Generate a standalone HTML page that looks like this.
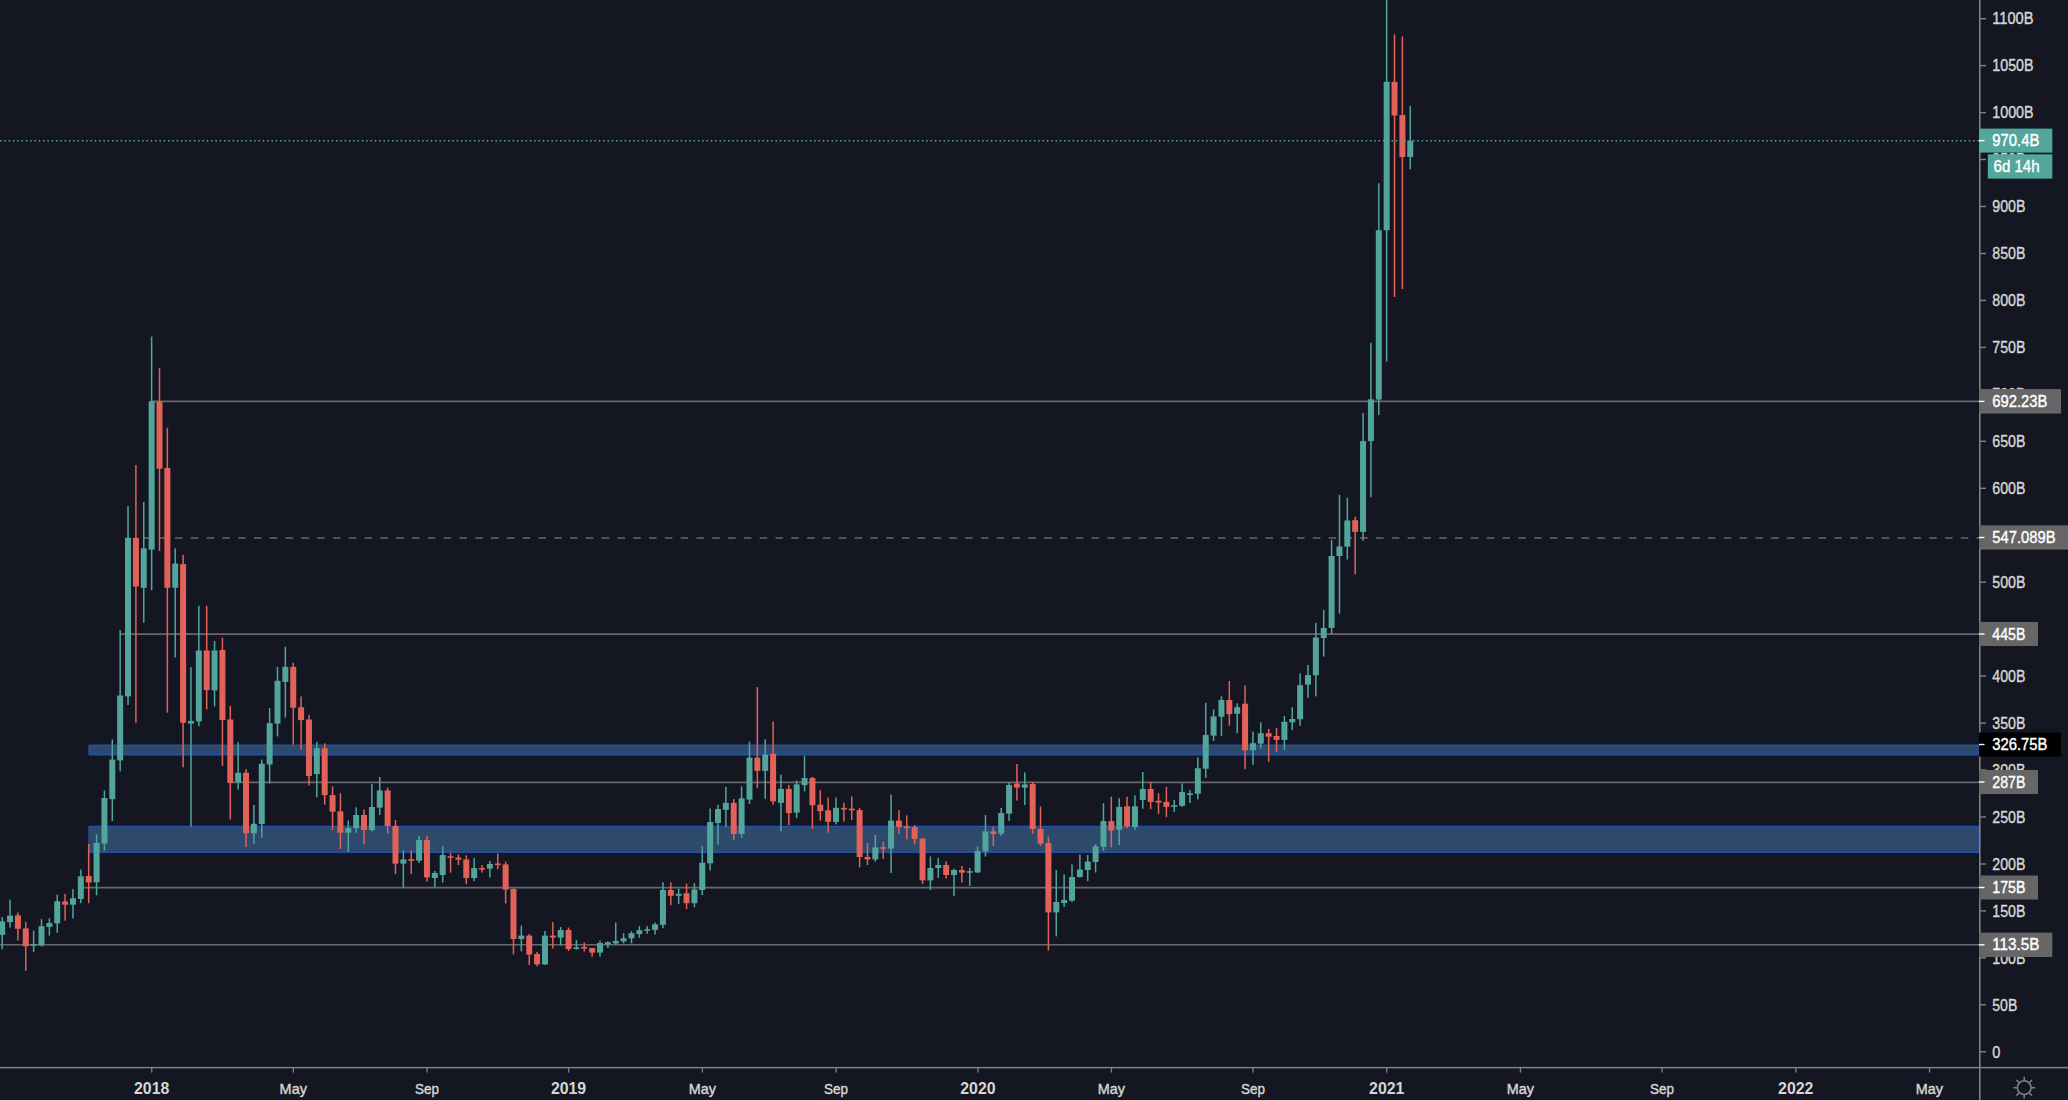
<!DOCTYPE html>
<html><head><meta charset="utf-8"><title>Chart</title>
<style>
html,body{margin:0;padding:0;background:#141622;width:2068px;height:1100px;overflow:hidden}
body{position:relative;font-family:"Liberation Sans",Arial,sans-serif}
</style></head><body>
<svg width="2068" height="1100" viewBox="0 0 2068 1100" style="position:absolute;left:0;top:0;display:block">
<rect width="2068" height="1100" fill="#141622"/>
<rect x="89.0" y="745.2" width="1890.0" height="9.6" rx="0.8" fill="#2d4a6c" stroke="#234fa8" stroke-width="1.4"/>
<rect x="89.0" y="826.5" width="1890.0" height="25.800000000000047" rx="0.8" fill="#2d4a6c" stroke="#234fa8" stroke-width="1.4"/>
<line x1="151.5" y1="401.4" x2="1979.0" y2="401.4" stroke="#686868" stroke-width="1.6"/>
<line x1="143.3" y1="538.0" x2="1979.0" y2="538.0" stroke="#686868" stroke-width="1.6" stroke-dasharray="7.6 8.204"/>
<line x1="120" y1="634.1" x2="1979.0" y2="634.1" stroke="#686868" stroke-width="1.6"/>
<line x1="230.2" y1="782.4" x2="1979.0" y2="782.4" stroke="#686868" stroke-width="1.6"/>
<line x1="80.7" y1="887.6" x2="1979.0" y2="887.6" stroke="#686868" stroke-width="1.6"/>
<line x1="0" y1="944.8" x2="1979.0" y2="944.8" stroke="#686868" stroke-width="1.6"/>
<rect x="1.42" y="917.2" width="1.5" height="32.0" fill="#52a59b"/>
<rect x="-0.83" y="921.4" width="6.0" height="13.5" fill="#52a59b"/>
<rect x="9.28" y="899.7" width="1.5" height="27.9" fill="#52a59b"/>
<rect x="7.03" y="915.6" width="6.0" height="6.5" fill="#52a59b"/>
<rect x="17.15" y="912.5" width="1.5" height="28.2" fill="#e26158"/>
<rect x="14.90" y="915.3" width="6.0" height="13.5" fill="#e26158"/>
<rect x="25.02" y="921.8" width="1.5" height="49.0" fill="#e26158"/>
<rect x="22.77" y="928.4" width="6.0" height="17.9" fill="#e26158"/>
<rect x="32.88" y="930.5" width="1.5" height="21.4" fill="#52a59b"/>
<rect x="30.63" y="944.1" width="6.0" height="1.6" fill="#52a59b"/>
<rect x="40.75" y="919.2" width="1.5" height="27.3" fill="#52a59b"/>
<rect x="38.50" y="926.2" width="6.0" height="19.2" fill="#52a59b"/>
<rect x="48.62" y="918.3" width="1.5" height="17.3" fill="#52a59b"/>
<rect x="46.37" y="923.0" width="6.0" height="3.9" fill="#52a59b"/>
<rect x="56.48" y="894.6" width="1.5" height="38.1" fill="#52a59b"/>
<rect x="54.23" y="901.2" width="6.0" height="22.1" fill="#52a59b"/>
<rect x="64.35" y="894.0" width="1.5" height="26.7" fill="#e26158"/>
<rect x="62.10" y="901.5" width="6.0" height="3.2" fill="#e26158"/>
<rect x="72.22" y="889.1" width="1.5" height="29.4" fill="#52a59b"/>
<rect x="69.97" y="898.3" width="6.0" height="6.4" fill="#52a59b"/>
<rect x="80.08" y="869.6" width="1.5" height="33.6" fill="#52a59b"/>
<rect x="77.83" y="876.3" width="6.0" height="22.7" fill="#52a59b"/>
<rect x="87.95" y="844.0" width="1.5" height="59.2" fill="#e26158"/>
<rect x="85.70" y="876.0" width="6.0" height="6.5" fill="#e26158"/>
<rect x="95.82" y="834.3" width="1.5" height="61.0" fill="#52a59b"/>
<rect x="93.57" y="843.0" width="6.0" height="39.3" fill="#52a59b"/>
<rect x="103.68" y="790.4" width="1.5" height="60.2" fill="#52a59b"/>
<rect x="101.43" y="798.0" width="6.0" height="45.6" fill="#52a59b"/>
<rect x="111.55" y="739.4" width="1.5" height="81.6" fill="#52a59b"/>
<rect x="109.30" y="759.6" width="6.0" height="39.6" fill="#52a59b"/>
<rect x="119.41" y="630.1" width="1.5" height="141.2" fill="#52a59b"/>
<rect x="117.16" y="695.5" width="6.0" height="64.9" fill="#52a59b"/>
<rect x="127.28" y="506.1" width="1.5" height="198.9" fill="#52a59b"/>
<rect x="125.03" y="537.8" width="6.0" height="158.6" fill="#52a59b"/>
<rect x="135.15" y="465.0" width="1.5" height="257.8" fill="#e26158"/>
<rect x="132.90" y="537.8" width="6.0" height="48.7" fill="#e26158"/>
<rect x="143.01" y="501.9" width="1.5" height="120.8" fill="#52a59b"/>
<rect x="140.76" y="548.3" width="6.0" height="39.5" fill="#52a59b"/>
<rect x="150.88" y="336.6" width="1.5" height="253.6" fill="#52a59b"/>
<rect x="148.63" y="401.2" width="6.0" height="148.4" fill="#52a59b"/>
<rect x="158.75" y="368.2" width="1.5" height="182.8" fill="#e26158"/>
<rect x="156.50" y="401.7" width="6.0" height="67.0" fill="#e26158"/>
<rect x="166.61" y="427.8" width="1.5" height="284.9" fill="#e26158"/>
<rect x="164.36" y="467.9" width="6.0" height="119.9" fill="#e26158"/>
<rect x="174.48" y="548.3" width="1.5" height="109.1" fill="#52a59b"/>
<rect x="172.23" y="563.6" width="6.0" height="24.2" fill="#52a59b"/>
<rect x="182.35" y="554.9" width="1.5" height="212.4" fill="#e26158"/>
<rect x="180.10" y="564.1" width="6.0" height="158.7" fill="#e26158"/>
<rect x="190.21" y="667.2" width="1.5" height="159.5" fill="#52a59b"/>
<rect x="187.96" y="720.9" width="6.0" height="2.7" fill="#52a59b"/>
<rect x="198.08" y="605.8" width="1.5" height="120.5" fill="#52a59b"/>
<rect x="195.83" y="650.5" width="6.0" height="70.9" fill="#52a59b"/>
<rect x="205.94" y="605.8" width="1.5" height="103.6" fill="#e26158"/>
<rect x="203.69" y="650.5" width="6.0" height="39.6" fill="#e26158"/>
<rect x="213.81" y="641.0" width="1.5" height="65.4" fill="#52a59b"/>
<rect x="211.56" y="650.5" width="6.0" height="39.9" fill="#52a59b"/>
<rect x="221.68" y="637.7" width="1.5" height="128.2" fill="#e26158"/>
<rect x="219.43" y="650.0" width="6.0" height="70.0" fill="#e26158"/>
<rect x="229.54" y="705.9" width="1.5" height="113.7" fill="#e26158"/>
<rect x="227.29" y="719.5" width="6.0" height="63.5" fill="#e26158"/>
<rect x="237.41" y="742.2" width="1.5" height="47.4" fill="#52a59b"/>
<rect x="235.16" y="772.7" width="6.0" height="9.6" fill="#52a59b"/>
<rect x="245.28" y="769.2" width="1.5" height="77.7" fill="#e26158"/>
<rect x="243.03" y="772.7" width="6.0" height="60.6" fill="#e26158"/>
<rect x="253.14" y="804.9" width="1.5" height="38.7" fill="#52a59b"/>
<rect x="250.89" y="823.7" width="6.0" height="9.6" fill="#52a59b"/>
<rect x="261.01" y="759.6" width="1.5" height="78.0" fill="#52a59b"/>
<rect x="258.76" y="763.7" width="6.0" height="60.3" fill="#52a59b"/>
<rect x="268.88" y="708.1" width="1.5" height="75.5" fill="#52a59b"/>
<rect x="266.63" y="723.1" width="6.0" height="41.4" fill="#52a59b"/>
<rect x="276.74" y="666.9" width="1.5" height="69.5" fill="#52a59b"/>
<rect x="274.49" y="680.8" width="6.0" height="42.8" fill="#52a59b"/>
<rect x="284.61" y="646.7" width="1.5" height="70.9" fill="#52a59b"/>
<rect x="282.36" y="666.9" width="6.0" height="15.0" fill="#52a59b"/>
<rect x="292.48" y="662.8" width="1.5" height="81.8" fill="#e26158"/>
<rect x="290.23" y="666.9" width="6.0" height="40.9" fill="#e26158"/>
<rect x="300.34" y="696.4" width="1.5" height="53.1" fill="#e26158"/>
<rect x="298.09" y="707.3" width="6.0" height="12.8" fill="#e26158"/>
<rect x="308.21" y="714.9" width="1.5" height="70.6" fill="#e26158"/>
<rect x="305.96" y="719.5" width="6.0" height="56.5" fill="#e26158"/>
<rect x="316.07" y="741.9" width="1.5" height="55.4" fill="#52a59b"/>
<rect x="313.82" y="748.2" width="6.0" height="25.9" fill="#52a59b"/>
<rect x="323.94" y="743.3" width="1.5" height="61.3" fill="#e26158"/>
<rect x="321.69" y="748.2" width="6.0" height="46.9" fill="#e26158"/>
<rect x="331.81" y="786.3" width="1.5" height="43.7" fill="#e26158"/>
<rect x="329.56" y="795.1" width="6.0" height="16.6" fill="#e26158"/>
<rect x="339.67" y="793.2" width="1.5" height="55.9" fill="#e26158"/>
<rect x="337.42" y="811.4" width="6.0" height="21.3" fill="#e26158"/>
<rect x="347.54" y="820.4" width="1.5" height="31.4" fill="#52a59b"/>
<rect x="345.29" y="828.1" width="6.0" height="4.6" fill="#52a59b"/>
<rect x="355.41" y="807.3" width="1.5" height="25.4" fill="#52a59b"/>
<rect x="353.16" y="815.0" width="6.0" height="13.1" fill="#52a59b"/>
<rect x="363.27" y="809.5" width="1.5" height="34.9" fill="#e26158"/>
<rect x="361.02" y="815.0" width="6.0" height="15.0" fill="#e26158"/>
<rect x="371.14" y="784.0" width="1.5" height="47.4" fill="#52a59b"/>
<rect x="368.89" y="807.0" width="6.0" height="23.0" fill="#52a59b"/>
<rect x="379.01" y="777.0" width="1.5" height="38.0" fill="#52a59b"/>
<rect x="376.76" y="790.4" width="6.0" height="17.2" fill="#52a59b"/>
<rect x="386.87" y="787.6" width="1.5" height="46.0" fill="#e26158"/>
<rect x="384.62" y="790.4" width="6.0" height="35.6" fill="#e26158"/>
<rect x="394.74" y="820.0" width="1.5" height="54.0" fill="#e26158"/>
<rect x="392.49" y="826.0" width="6.0" height="37.6" fill="#e26158"/>
<rect x="402.60" y="850.4" width="1.5" height="37.2" fill="#52a59b"/>
<rect x="400.35" y="859.4" width="6.0" height="4.2" fill="#52a59b"/>
<rect x="410.47" y="850.4" width="1.5" height="23.6" fill="#e26158"/>
<rect x="408.22" y="859.2" width="6.0" height="1.6" fill="#e26158"/>
<rect x="418.34" y="836.0" width="1.5" height="27.0" fill="#52a59b"/>
<rect x="416.09" y="840.0" width="6.0" height="20.6" fill="#52a59b"/>
<rect x="426.20" y="836.0" width="1.5" height="45.6" fill="#e26158"/>
<rect x="423.95" y="840.0" width="6.0" height="37.4" fill="#e26158"/>
<rect x="434.07" y="871.0" width="1.5" height="16.0" fill="#52a59b"/>
<rect x="431.82" y="873.0" width="6.0" height="5.0" fill="#52a59b"/>
<rect x="441.94" y="846.0" width="1.5" height="36.4" fill="#52a59b"/>
<rect x="439.69" y="855.0" width="6.0" height="20.0" fill="#52a59b"/>
<rect x="449.80" y="853.0" width="1.5" height="19.6" fill="#e26158"/>
<rect x="447.55" y="856.2" width="6.0" height="1.6" fill="#e26158"/>
<rect x="457.67" y="854.4" width="1.5" height="10.6" fill="#e26158"/>
<rect x="455.42" y="857.6" width="6.0" height="2.0" fill="#e26158"/>
<rect x="465.54" y="855.4" width="1.5" height="28.6" fill="#e26158"/>
<rect x="463.29" y="859.4" width="6.0" height="18.6" fill="#e26158"/>
<rect x="473.40" y="858.0" width="1.5" height="23.0" fill="#52a59b"/>
<rect x="471.15" y="868.0" width="6.0" height="10.0" fill="#52a59b"/>
<rect x="481.27" y="865.0" width="1.5" height="7.6" fill="#e26158"/>
<rect x="479.02" y="868.0" width="6.0" height="1.6" fill="#e26158"/>
<rect x="489.14" y="861.0" width="1.5" height="16.4" fill="#52a59b"/>
<rect x="486.89" y="864.0" width="6.0" height="4.6" fill="#52a59b"/>
<rect x="497.00" y="853.6" width="1.5" height="15.4" fill="#e26158"/>
<rect x="494.75" y="863.5" width="6.0" height="1.6" fill="#e26158"/>
<rect x="504.87" y="861.6" width="1.5" height="41.8" fill="#e26158"/>
<rect x="502.62" y="864.4" width="6.0" height="25.2" fill="#e26158"/>
<rect x="512.73" y="888.4" width="1.5" height="66.0" fill="#e26158"/>
<rect x="510.48" y="889.0" width="6.0" height="50.0" fill="#e26158"/>
<rect x="520.60" y="925.6" width="1.5" height="25.8" fill="#52a59b"/>
<rect x="518.35" y="935.6" width="6.0" height="3.4" fill="#52a59b"/>
<rect x="528.47" y="934.0" width="1.5" height="31.0" fill="#e26158"/>
<rect x="526.22" y="935.6" width="6.0" height="19.0" fill="#e26158"/>
<rect x="536.33" y="952.0" width="1.5" height="14.4" fill="#e26158"/>
<rect x="534.08" y="954.0" width="6.0" height="10.4" fill="#e26158"/>
<rect x="544.20" y="931.0" width="1.5" height="34.0" fill="#52a59b"/>
<rect x="541.95" y="935.6" width="6.0" height="28.8" fill="#52a59b"/>
<rect x="552.07" y="922.0" width="1.5" height="26.6" fill="#e26158"/>
<rect x="549.82" y="935.6" width="6.0" height="2.0" fill="#e26158"/>
<rect x="559.93" y="927.0" width="1.5" height="18.4" fill="#52a59b"/>
<rect x="557.68" y="930.0" width="6.0" height="7.6" fill="#52a59b"/>
<rect x="567.80" y="927.6" width="1.5" height="23.4" fill="#e26158"/>
<rect x="565.55" y="930.0" width="6.0" height="19.0" fill="#e26158"/>
<rect x="575.67" y="940.0" width="1.5" height="9.6" fill="#52a59b"/>
<rect x="573.42" y="947.4" width="6.0" height="1.6" fill="#52a59b"/>
<rect x="583.53" y="942.4" width="1.5" height="9.2" fill="#e26158"/>
<rect x="581.28" y="946.9" width="6.0" height="1.6" fill="#e26158"/>
<rect x="591.40" y="948.0" width="1.5" height="8.6" fill="#e26158"/>
<rect x="589.15" y="948.0" width="6.0" height="4.6" fill="#e26158"/>
<rect x="599.26" y="940.6" width="1.5" height="16.0" fill="#52a59b"/>
<rect x="597.01" y="943.0" width="6.0" height="9.6" fill="#52a59b"/>
<rect x="607.13" y="941.4" width="1.5" height="6.6" fill="#52a59b"/>
<rect x="604.88" y="942.2" width="6.0" height="2.3" fill="#52a59b"/>
<rect x="615.00" y="922.6" width="1.5" height="21.8" fill="#52a59b"/>
<rect x="612.75" y="940.9" width="6.0" height="2.5" fill="#52a59b"/>
<rect x="622.86" y="933.2" width="1.5" height="10.2" fill="#52a59b"/>
<rect x="620.61" y="938.3" width="6.0" height="3.1" fill="#52a59b"/>
<rect x="630.73" y="931.2" width="1.5" height="12.2" fill="#52a59b"/>
<rect x="628.48" y="933.2" width="6.0" height="5.1" fill="#52a59b"/>
<rect x="638.60" y="926.1" width="1.5" height="11.7" fill="#52a59b"/>
<rect x="636.35" y="930.2" width="6.0" height="3.8" fill="#52a59b"/>
<rect x="646.46" y="926.1" width="1.5" height="7.7" fill="#52a59b"/>
<rect x="644.21" y="929.2" width="6.0" height="1.6" fill="#52a59b"/>
<rect x="654.33" y="922.6" width="1.5" height="11.9" fill="#52a59b"/>
<rect x="652.08" y="924.3" width="6.0" height="5.6" fill="#52a59b"/>
<rect x="662.20" y="882.3" width="1.5" height="45.9" fill="#52a59b"/>
<rect x="659.95" y="890.0" width="6.0" height="34.8" fill="#52a59b"/>
<rect x="670.06" y="882.3" width="1.5" height="22.9" fill="#e26158"/>
<rect x="667.81" y="890.0" width="6.0" height="5.8" fill="#e26158"/>
<rect x="677.93" y="888.7" width="1.5" height="15.3" fill="#52a59b"/>
<rect x="675.68" y="893.8" width="6.0" height="2.0" fill="#52a59b"/>
<rect x="685.80" y="883.6" width="1.5" height="25.5" fill="#e26158"/>
<rect x="683.55" y="893.3" width="6.0" height="9.9" fill="#e26158"/>
<rect x="693.66" y="883.1" width="1.5" height="24.2" fill="#52a59b"/>
<rect x="691.41" y="889.5" width="6.0" height="13.7" fill="#52a59b"/>
<rect x="701.53" y="845.9" width="1.5" height="49.2" fill="#52a59b"/>
<rect x="699.28" y="862.7" width="6.0" height="27.3" fill="#52a59b"/>
<rect x="709.39" y="808.5" width="1.5" height="61.9" fill="#52a59b"/>
<rect x="707.14" y="822.0" width="6.0" height="41.3" fill="#52a59b"/>
<rect x="717.26" y="804.7" width="1.5" height="40.0" fill="#52a59b"/>
<rect x="715.01" y="809.0" width="6.0" height="14.0" fill="#52a59b"/>
<rect x="725.13" y="786.9" width="1.5" height="40.2" fill="#52a59b"/>
<rect x="722.88" y="802.9" width="6.0" height="6.9" fill="#52a59b"/>
<rect x="732.99" y="799.1" width="1.5" height="41.2" fill="#e26158"/>
<rect x="730.74" y="802.9" width="6.0" height="31.1" fill="#e26158"/>
<rect x="740.86" y="786.4" width="1.5" height="51.4" fill="#52a59b"/>
<rect x="738.61" y="798.4" width="6.0" height="35.6" fill="#52a59b"/>
<rect x="748.73" y="741.6" width="1.5" height="62.4" fill="#52a59b"/>
<rect x="746.48" y="757.6" width="6.0" height="42.0" fill="#52a59b"/>
<rect x="756.59" y="687.1" width="1.5" height="101.1" fill="#e26158"/>
<rect x="754.34" y="757.6" width="6.0" height="13.3" fill="#e26158"/>
<rect x="764.46" y="739.3" width="1.5" height="59.6" fill="#52a59b"/>
<rect x="762.21" y="754.6" width="6.0" height="16.3" fill="#52a59b"/>
<rect x="772.33" y="721.5" width="1.5" height="83.2" fill="#e26158"/>
<rect x="770.08" y="753.8" width="6.0" height="47.6" fill="#e26158"/>
<rect x="780.19" y="774.7" width="1.5" height="56.7" fill="#52a59b"/>
<rect x="777.94" y="788.9" width="6.0" height="14.0" fill="#52a59b"/>
<rect x="788.06" y="785.1" width="1.5" height="40.0" fill="#e26158"/>
<rect x="785.81" y="788.9" width="6.0" height="24.2" fill="#e26158"/>
<rect x="795.92" y="780.5" width="1.5" height="37.5" fill="#52a59b"/>
<rect x="793.67" y="784.4" width="6.0" height="28.2" fill="#52a59b"/>
<rect x="803.79" y="755.8" width="1.5" height="35.7" fill="#52a59b"/>
<rect x="801.54" y="778.0" width="6.0" height="7.1" fill="#52a59b"/>
<rect x="811.66" y="776.7" width="1.5" height="52.2" fill="#e26158"/>
<rect x="809.41" y="778.0" width="6.0" height="27.2" fill="#e26158"/>
<rect x="819.52" y="790.2" width="1.5" height="30.6" fill="#e26158"/>
<rect x="817.27" y="804.7" width="6.0" height="6.4" fill="#e26158"/>
<rect x="827.39" y="797.6" width="1.5" height="35.1" fill="#e26158"/>
<rect x="825.14" y="810.3" width="6.0" height="11.5" fill="#e26158"/>
<rect x="835.26" y="797.6" width="1.5" height="26.7" fill="#52a59b"/>
<rect x="833.01" y="807.8" width="6.0" height="14.2" fill="#52a59b"/>
<rect x="843.12" y="802.6" width="1.5" height="19.0" fill="#e26158"/>
<rect x="840.87" y="807.9" width="6.0" height="1.6" fill="#e26158"/>
<rect x="850.99" y="796.4" width="1.5" height="23.6" fill="#e26158"/>
<rect x="848.74" y="808.6" width="6.0" height="1.8" fill="#e26158"/>
<rect x="858.86" y="808.0" width="1.5" height="59.4" fill="#e26158"/>
<rect x="856.61" y="810.0" width="6.0" height="47.0" fill="#e26158"/>
<rect x="866.72" y="843.0" width="1.5" height="22.0" fill="#e26158"/>
<rect x="864.47" y="857.0" width="6.0" height="2.4" fill="#e26158"/>
<rect x="874.59" y="835.0" width="1.5" height="26.6" fill="#52a59b"/>
<rect x="872.34" y="847.4" width="6.0" height="12.0" fill="#52a59b"/>
<rect x="882.46" y="842.0" width="1.5" height="17.0" fill="#e26158"/>
<rect x="880.21" y="847.2" width="6.0" height="1.6" fill="#e26158"/>
<rect x="890.32" y="794.6" width="1.5" height="78.4" fill="#52a59b"/>
<rect x="888.07" y="820.6" width="6.0" height="28.0" fill="#52a59b"/>
<rect x="898.19" y="810.0" width="1.5" height="24.0" fill="#e26158"/>
<rect x="895.94" y="820.6" width="6.0" height="6.4" fill="#e26158"/>
<rect x="906.05" y="815.4" width="1.5" height="24.0" fill="#e26158"/>
<rect x="903.80" y="826.5" width="6.0" height="1.6" fill="#e26158"/>
<rect x="913.92" y="825.0" width="1.5" height="19.4" fill="#e26158"/>
<rect x="911.67" y="827.0" width="6.0" height="12.0" fill="#e26158"/>
<rect x="921.79" y="838.0" width="1.5" height="46.0" fill="#e26158"/>
<rect x="919.54" y="838.6" width="6.0" height="41.8" fill="#e26158"/>
<rect x="929.65" y="856.4" width="1.5" height="33.6" fill="#52a59b"/>
<rect x="927.40" y="868.0" width="6.0" height="12.4" fill="#52a59b"/>
<rect x="937.52" y="858.0" width="1.5" height="20.0" fill="#52a59b"/>
<rect x="935.27" y="865.0" width="6.0" height="3.0" fill="#52a59b"/>
<rect x="945.39" y="861.4" width="1.5" height="17.2" fill="#e26158"/>
<rect x="943.14" y="865.0" width="6.0" height="10.0" fill="#e26158"/>
<rect x="953.25" y="868.6" width="1.5" height="27.4" fill="#52a59b"/>
<rect x="951.00" y="870.0" width="6.0" height="5.0" fill="#52a59b"/>
<rect x="961.12" y="866.0" width="1.5" height="16.4" fill="#e26158"/>
<rect x="958.87" y="870.0" width="6.0" height="2.6" fill="#e26158"/>
<rect x="968.99" y="868.0" width="1.5" height="18.0" fill="#52a59b"/>
<rect x="966.74" y="871.2" width="6.0" height="1.6" fill="#52a59b"/>
<rect x="976.85" y="846.4" width="1.5" height="26.6" fill="#52a59b"/>
<rect x="974.60" y="851.0" width="6.0" height="21.4" fill="#52a59b"/>
<rect x="984.72" y="815.0" width="1.5" height="41.6" fill="#52a59b"/>
<rect x="982.47" y="831.4" width="6.0" height="20.0" fill="#52a59b"/>
<rect x="992.58" y="826.4" width="1.5" height="19.6" fill="#e26158"/>
<rect x="990.33" y="831.4" width="6.0" height="2.6" fill="#e26158"/>
<rect x="1000.45" y="808.0" width="1.5" height="28.0" fill="#52a59b"/>
<rect x="998.20" y="813.0" width="6.0" height="20.6" fill="#52a59b"/>
<rect x="1008.32" y="782.4" width="1.5" height="38.6" fill="#52a59b"/>
<rect x="1006.07" y="785.0" width="6.0" height="28.6" fill="#52a59b"/>
<rect x="1016.18" y="764.0" width="1.5" height="36.6" fill="#e26158"/>
<rect x="1013.93" y="783.6" width="6.0" height="4.0" fill="#e26158"/>
<rect x="1024.05" y="772.4" width="1.5" height="32.6" fill="#52a59b"/>
<rect x="1021.80" y="784.4" width="6.0" height="3.2" fill="#52a59b"/>
<rect x="1031.92" y="782.0" width="1.5" height="51.6" fill="#e26158"/>
<rect x="1029.67" y="784.0" width="6.0" height="45.0" fill="#e26158"/>
<rect x="1039.78" y="806.4" width="1.5" height="39.6" fill="#e26158"/>
<rect x="1037.53" y="829.0" width="6.0" height="14.6" fill="#e26158"/>
<rect x="1047.65" y="836.6" width="1.5" height="114.0" fill="#e26158"/>
<rect x="1045.40" y="843.0" width="6.0" height="69.4" fill="#e26158"/>
<rect x="1055.52" y="870.0" width="1.5" height="66.4" fill="#52a59b"/>
<rect x="1053.27" y="902.0" width="6.0" height="10.4" fill="#52a59b"/>
<rect x="1063.38" y="874.4" width="1.5" height="32.6" fill="#52a59b"/>
<rect x="1061.13" y="900.0" width="6.0" height="3.0" fill="#52a59b"/>
<rect x="1071.25" y="864.4" width="1.5" height="37.6" fill="#52a59b"/>
<rect x="1069.00" y="877.0" width="6.0" height="23.6" fill="#52a59b"/>
<rect x="1079.12" y="854.4" width="1.5" height="23.2" fill="#52a59b"/>
<rect x="1076.87" y="869.6" width="6.0" height="7.4" fill="#52a59b"/>
<rect x="1086.98" y="855.0" width="1.5" height="26.0" fill="#52a59b"/>
<rect x="1084.73" y="861.6" width="6.0" height="8.4" fill="#52a59b"/>
<rect x="1094.85" y="844.0" width="1.5" height="28.5" fill="#52a59b"/>
<rect x="1092.60" y="846.4" width="6.0" height="15.6" fill="#52a59b"/>
<rect x="1102.71" y="803.2" width="1.5" height="47.4" fill="#52a59b"/>
<rect x="1100.46" y="821.1" width="6.0" height="25.8" fill="#52a59b"/>
<rect x="1110.58" y="796.7" width="1.5" height="50.6" fill="#e26158"/>
<rect x="1108.33" y="821.1" width="6.0" height="9.4" fill="#e26158"/>
<rect x="1118.45" y="798.2" width="1.5" height="46.9" fill="#52a59b"/>
<rect x="1116.20" y="806.9" width="6.0" height="22.9" fill="#52a59b"/>
<rect x="1126.31" y="796.7" width="1.5" height="31.6" fill="#e26158"/>
<rect x="1124.06" y="806.3" width="6.0" height="20.3" fill="#e26158"/>
<rect x="1134.18" y="795.4" width="1.5" height="34.4" fill="#52a59b"/>
<rect x="1131.93" y="806.3" width="6.0" height="20.7" fill="#52a59b"/>
<rect x="1142.05" y="772.0" width="1.5" height="36.7" fill="#52a59b"/>
<rect x="1139.80" y="789.0" width="6.0" height="10.9" fill="#52a59b"/>
<rect x="1149.91" y="781.8" width="1.5" height="27.3" fill="#e26158"/>
<rect x="1147.66" y="789.0" width="6.0" height="12.9" fill="#e26158"/>
<rect x="1157.78" y="793.2" width="1.5" height="20.7" fill="#e26158"/>
<rect x="1155.53" y="800.8" width="6.0" height="1.8" fill="#e26158"/>
<rect x="1165.65" y="786.8" width="1.5" height="30.4" fill="#e26158"/>
<rect x="1163.40" y="801.9" width="6.0" height="5.0" fill="#e26158"/>
<rect x="1173.51" y="799.9" width="1.5" height="12.0" fill="#52a59b"/>
<rect x="1171.26" y="805.2" width="6.0" height="1.7" fill="#52a59b"/>
<rect x="1181.38" y="783.4" width="1.5" height="23.5" fill="#52a59b"/>
<rect x="1179.13" y="792.1" width="6.0" height="13.7" fill="#52a59b"/>
<rect x="1189.24" y="790.1" width="1.5" height="12.9" fill="#52a59b"/>
<rect x="1186.99" y="793.4" width="6.0" height="1.6" fill="#52a59b"/>
<rect x="1197.11" y="757.4" width="1.5" height="41.9" fill="#52a59b"/>
<rect x="1194.86" y="768.3" width="6.0" height="25.5" fill="#52a59b"/>
<rect x="1204.98" y="702.8" width="1.5" height="75.1" fill="#52a59b"/>
<rect x="1202.73" y="734.9" width="6.0" height="33.8" fill="#52a59b"/>
<rect x="1212.84" y="709.4" width="1.5" height="31.6" fill="#52a59b"/>
<rect x="1210.59" y="716.4" width="6.0" height="19.2" fill="#52a59b"/>
<rect x="1220.71" y="696.3" width="1.5" height="39.7" fill="#52a59b"/>
<rect x="1218.46" y="700.0" width="6.0" height="16.8" fill="#52a59b"/>
<rect x="1228.58" y="681.0" width="1.5" height="44.8" fill="#e26158"/>
<rect x="1226.33" y="700.0" width="6.0" height="14.2" fill="#e26158"/>
<rect x="1236.44" y="703.3" width="1.5" height="29.9" fill="#52a59b"/>
<rect x="1234.19" y="707.2" width="6.0" height="6.6" fill="#52a59b"/>
<rect x="1244.31" y="685.4" width="1.5" height="83.8" fill="#e26158"/>
<rect x="1242.06" y="703.7" width="6.0" height="46.5" fill="#e26158"/>
<rect x="1252.18" y="731.6" width="1.5" height="33.2" fill="#52a59b"/>
<rect x="1249.93" y="743.2" width="6.0" height="7.0" fill="#52a59b"/>
<rect x="1260.04" y="722.3" width="1.5" height="26.4" fill="#52a59b"/>
<rect x="1257.79" y="733.2" width="6.0" height="10.4" fill="#52a59b"/>
<rect x="1267.91" y="729.0" width="1.5" height="32.8" fill="#e26158"/>
<rect x="1265.66" y="733.2" width="6.0" height="3.5" fill="#e26158"/>
<rect x="1275.78" y="727.9" width="1.5" height="24.0" fill="#e26158"/>
<rect x="1273.53" y="736.0" width="6.0" height="3.9" fill="#e26158"/>
<rect x="1283.64" y="715.9" width="1.5" height="33.9" fill="#52a59b"/>
<rect x="1281.39" y="721.8" width="6.0" height="18.1" fill="#52a59b"/>
<rect x="1291.51" y="707.2" width="1.5" height="22.9" fill="#52a59b"/>
<rect x="1289.26" y="719.0" width="6.0" height="3.3" fill="#52a59b"/>
<rect x="1299.37" y="673.4" width="1.5" height="52.4" fill="#52a59b"/>
<rect x="1297.12" y="685.2" width="6.0" height="34.0" fill="#52a59b"/>
<rect x="1307.24" y="664.9" width="1.5" height="32.9" fill="#52a59b"/>
<rect x="1304.99" y="675.1" width="6.0" height="9.6" fill="#52a59b"/>
<rect x="1315.11" y="622.9" width="1.5" height="73.5" fill="#52a59b"/>
<rect x="1312.86" y="637.5" width="6.0" height="37.8" fill="#52a59b"/>
<rect x="1322.97" y="609.8" width="1.5" height="46.8" fill="#52a59b"/>
<rect x="1320.72" y="627.9" width="6.0" height="10.1" fill="#52a59b"/>
<rect x="1330.84" y="540.0" width="1.5" height="93.7" fill="#52a59b"/>
<rect x="1328.59" y="556.0" width="6.0" height="71.9" fill="#52a59b"/>
<rect x="1338.71" y="494.9" width="1.5" height="118.7" fill="#52a59b"/>
<rect x="1336.46" y="546.4" width="6.0" height="9.6" fill="#52a59b"/>
<rect x="1346.57" y="497.8" width="1.5" height="61.7" fill="#52a59b"/>
<rect x="1344.32" y="520.5" width="6.0" height="26.2" fill="#52a59b"/>
<rect x="1354.44" y="516.7" width="1.5" height="57.6" fill="#e26158"/>
<rect x="1352.19" y="520.2" width="6.0" height="11.7" fill="#e26158"/>
<rect x="1362.31" y="412.9" width="1.5" height="127.7" fill="#52a59b"/>
<rect x="1360.06" y="441.1" width="6.0" height="90.8" fill="#52a59b"/>
<rect x="1370.17" y="342.9" width="1.5" height="154.3" fill="#52a59b"/>
<rect x="1367.92" y="399.3" width="6.0" height="41.8" fill="#52a59b"/>
<rect x="1378.04" y="183.3" width="1.5" height="231.7" fill="#52a59b"/>
<rect x="1375.79" y="230.2" width="6.0" height="169.3" fill="#52a59b"/>
<rect x="1385.90" y="-2.0" width="1.5" height="363.6" fill="#52a59b"/>
<rect x="1383.65" y="81.8" width="6.0" height="148.4" fill="#52a59b"/>
<rect x="1393.77" y="34.4" width="1.5" height="262.6" fill="#e26158"/>
<rect x="1391.52" y="81.8" width="6.0" height="33.7" fill="#e26158"/>
<rect x="1401.64" y="36.4" width="1.5" height="252.6" fill="#e26158"/>
<rect x="1399.39" y="115.0" width="6.0" height="42.0" fill="#e26158"/>
<rect x="1409.50" y="106.0" width="1.5" height="63.3" fill="#52a59b"/>
<rect x="1407.25" y="140.7" width="6.0" height="16.3" fill="#52a59b"/>
<line x1="0" y1="140.7" x2="1979.0" y2="140.7" stroke="#57a69b" stroke-width="1.5" stroke-dasharray="1.5 2.808"/>
<rect x="1979.0" y="0" width="1.6" height="1100" fill="#828282"/>
<rect x="0" y="1066.85" width="2068" height="1.5" fill="#828282"/>
<rect x="1980.0" y="1051.1" width="6.0" height="1.4" fill="#828282"/>
<text x="1992.3" y="1057.5" font-family="Liberation Sans, Arial, sans-serif" font-size="16.5" fill="#d6d6d6" stroke="#d6d6d6" stroke-width="0.4" textLength="8.1" lengthAdjust="spacingAndGlyphs">0</text>
<rect x="1980.0" y="1004.1" width="6.0" height="1.4" fill="#828282"/>
<text x="1992.3" y="1010.5" font-family="Liberation Sans, Arial, sans-serif" font-size="16.5" fill="#d6d6d6" stroke="#d6d6d6" stroke-width="0.4" textLength="25.0" lengthAdjust="spacingAndGlyphs">50B</text>
<rect x="1980.0" y="957.2" width="6.0" height="1.4" fill="#828282"/>
<text x="1992.3" y="963.6" font-family="Liberation Sans, Arial, sans-serif" font-size="16.5" fill="#d6d6d6" stroke="#d6d6d6" stroke-width="0.4" textLength="33.1" lengthAdjust="spacingAndGlyphs">100B</text>
<rect x="1980.0" y="910.2" width="6.0" height="1.4" fill="#828282"/>
<text x="1992.3" y="916.6" font-family="Liberation Sans, Arial, sans-serif" font-size="16.5" fill="#d6d6d6" stroke="#d6d6d6" stroke-width="0.4" textLength="33.1" lengthAdjust="spacingAndGlyphs">150B</text>
<rect x="1980.0" y="863.3" width="6.0" height="1.4" fill="#828282"/>
<text x="1992.3" y="869.7" font-family="Liberation Sans, Arial, sans-serif" font-size="16.5" fill="#d6d6d6" stroke="#d6d6d6" stroke-width="0.4" textLength="33.1" lengthAdjust="spacingAndGlyphs">200B</text>
<rect x="1980.0" y="816.3" width="6.0" height="1.4" fill="#828282"/>
<text x="1992.3" y="822.7" font-family="Liberation Sans, Arial, sans-serif" font-size="16.5" fill="#d6d6d6" stroke="#d6d6d6" stroke-width="0.4" textLength="33.1" lengthAdjust="spacingAndGlyphs">250B</text>
<rect x="1980.0" y="769.3" width="6.0" height="1.4" fill="#828282"/>
<text x="1992.3" y="775.7" font-family="Liberation Sans, Arial, sans-serif" font-size="16.5" fill="#d6d6d6" stroke="#d6d6d6" stroke-width="0.4" textLength="33.1" lengthAdjust="spacingAndGlyphs">300B</text>
<rect x="1980.0" y="722.4" width="6.0" height="1.4" fill="#828282"/>
<text x="1992.3" y="728.8" font-family="Liberation Sans, Arial, sans-serif" font-size="16.5" fill="#d6d6d6" stroke="#d6d6d6" stroke-width="0.4" textLength="33.1" lengthAdjust="spacingAndGlyphs">350B</text>
<rect x="1980.0" y="675.4" width="6.0" height="1.4" fill="#828282"/>
<text x="1992.3" y="681.8" font-family="Liberation Sans, Arial, sans-serif" font-size="16.5" fill="#d6d6d6" stroke="#d6d6d6" stroke-width="0.4" textLength="33.1" lengthAdjust="spacingAndGlyphs">400B</text>
<rect x="1980.0" y="628.5" width="6.0" height="1.4" fill="#828282"/>
<text x="1992.3" y="634.9" font-family="Liberation Sans, Arial, sans-serif" font-size="16.5" fill="#d6d6d6" stroke="#d6d6d6" stroke-width="0.4" textLength="33.1" lengthAdjust="spacingAndGlyphs">450B</text>
<rect x="1980.0" y="581.5" width="6.0" height="1.4" fill="#828282"/>
<text x="1992.3" y="587.9" font-family="Liberation Sans, Arial, sans-serif" font-size="16.5" fill="#d6d6d6" stroke="#d6d6d6" stroke-width="0.4" textLength="33.1" lengthAdjust="spacingAndGlyphs">500B</text>
<rect x="1980.0" y="534.5" width="6.0" height="1.4" fill="#828282"/>
<text x="1992.3" y="540.9" font-family="Liberation Sans, Arial, sans-serif" font-size="16.5" fill="#d6d6d6" stroke="#d6d6d6" stroke-width="0.4" textLength="33.1" lengthAdjust="spacingAndGlyphs">550B</text>
<rect x="1980.0" y="487.6" width="6.0" height="1.4" fill="#828282"/>
<text x="1992.3" y="494.0" font-family="Liberation Sans, Arial, sans-serif" font-size="16.5" fill="#d6d6d6" stroke="#d6d6d6" stroke-width="0.4" textLength="33.1" lengthAdjust="spacingAndGlyphs">600B</text>
<rect x="1980.0" y="440.6" width="6.0" height="1.4" fill="#828282"/>
<text x="1992.3" y="447.0" font-family="Liberation Sans, Arial, sans-serif" font-size="16.5" fill="#d6d6d6" stroke="#d6d6d6" stroke-width="0.4" textLength="33.1" lengthAdjust="spacingAndGlyphs">650B</text>
<rect x="1980.0" y="393.6" width="6.0" height="1.4" fill="#828282"/>
<text x="1992.3" y="400.0" font-family="Liberation Sans, Arial, sans-serif" font-size="16.5" fill="#d6d6d6" stroke="#d6d6d6" stroke-width="0.4" textLength="33.1" lengthAdjust="spacingAndGlyphs">700B</text>
<rect x="1980.0" y="346.7" width="6.0" height="1.4" fill="#828282"/>
<text x="1992.3" y="353.1" font-family="Liberation Sans, Arial, sans-serif" font-size="16.5" fill="#d6d6d6" stroke="#d6d6d6" stroke-width="0.4" textLength="33.1" lengthAdjust="spacingAndGlyphs">750B</text>
<rect x="1980.0" y="299.7" width="6.0" height="1.4" fill="#828282"/>
<text x="1992.3" y="306.1" font-family="Liberation Sans, Arial, sans-serif" font-size="16.5" fill="#d6d6d6" stroke="#d6d6d6" stroke-width="0.4" textLength="33.1" lengthAdjust="spacingAndGlyphs">800B</text>
<rect x="1980.0" y="252.8" width="6.0" height="1.4" fill="#828282"/>
<text x="1992.3" y="259.2" font-family="Liberation Sans, Arial, sans-serif" font-size="16.5" fill="#d6d6d6" stroke="#d6d6d6" stroke-width="0.4" textLength="33.1" lengthAdjust="spacingAndGlyphs">850B</text>
<rect x="1980.0" y="205.8" width="6.0" height="1.4" fill="#828282"/>
<text x="1992.3" y="212.2" font-family="Liberation Sans, Arial, sans-serif" font-size="16.5" fill="#d6d6d6" stroke="#d6d6d6" stroke-width="0.4" textLength="33.1" lengthAdjust="spacingAndGlyphs">900B</text>
<rect x="1980.0" y="158.8" width="6.0" height="1.4" fill="#828282"/>
<text x="1992.3" y="165.2" font-family="Liberation Sans, Arial, sans-serif" font-size="16.5" fill="#d6d6d6" stroke="#d6d6d6" stroke-width="0.4" textLength="33.1" lengthAdjust="spacingAndGlyphs">950B</text>
<rect x="1980.0" y="111.9" width="6.0" height="1.4" fill="#828282"/>
<text x="1992.3" y="118.3" font-family="Liberation Sans, Arial, sans-serif" font-size="16.5" fill="#d6d6d6" stroke="#d6d6d6" stroke-width="0.4" textLength="41.2" lengthAdjust="spacingAndGlyphs">1000B</text>
<rect x="1980.0" y="64.9" width="6.0" height="1.4" fill="#828282"/>
<text x="1992.3" y="71.3" font-family="Liberation Sans, Arial, sans-serif" font-size="16.5" fill="#d6d6d6" stroke="#d6d6d6" stroke-width="0.4" textLength="41.2" lengthAdjust="spacingAndGlyphs">1050B</text>
<rect x="1980.0" y="18.0" width="6.0" height="1.4" fill="#828282"/>
<text x="1992.3" y="24.4" font-family="Liberation Sans, Arial, sans-serif" font-size="16.5" fill="#d6d6d6" stroke="#d6d6d6" stroke-width="0.4" textLength="41.2" lengthAdjust="spacingAndGlyphs">1100B</text>
<rect x="1979.0" y="389.1" width="82.0" height="24.5" fill="#666666"/>
<rect x="1979.0" y="400.7" width="5.5" height="1.4" fill="#ffffff"/>
<text x="1992.3" y="407.0" font-family="Liberation Sans, Arial, sans-serif" font-size="16.5" fill="#ffffff" stroke="#ffffff" stroke-width="0.4" textLength="55.1" lengthAdjust="spacingAndGlyphs">692.23B</text>
<rect x="1979.0" y="525.3" width="89.0" height="24.300000000000068" fill="#666666"/>
<rect x="1979.0" y="536.8" width="5.5" height="1.4" fill="#ffffff"/>
<text x="1992.3" y="543.1" font-family="Liberation Sans, Arial, sans-serif" font-size="16.5" fill="#ffffff" stroke="#ffffff" stroke-width="0.4" textLength="63.2" lengthAdjust="spacingAndGlyphs">547.089B</text>
<rect x="1979.0" y="622" width="59.0" height="24" fill="#666666"/>
<rect x="1979.0" y="633.3" width="5.5" height="1.4" fill="#ffffff"/>
<text x="1992.3" y="639.6" font-family="Liberation Sans, Arial, sans-serif" font-size="16.5" fill="#ffffff" stroke="#ffffff" stroke-width="0.4" textLength="33.1" lengthAdjust="spacingAndGlyphs">445B</text>
<rect x="1979.0" y="732.5" width="82.0" height="24.0" fill="#000000"/>
<rect x="1979.0" y="743.8" width="5.5" height="1.4" fill="#ffffff"/>
<text x="1992.3" y="750.1" font-family="Liberation Sans, Arial, sans-serif" font-size="16.5" fill="#ffffff" stroke="#ffffff" stroke-width="0.4" textLength="55.1" lengthAdjust="spacingAndGlyphs">326.75B</text>
<rect x="1979.0" y="770" width="59.0" height="24" fill="#666666"/>
<rect x="1979.0" y="781.3" width="5.5" height="1.4" fill="#ffffff"/>
<text x="1992.3" y="787.6" font-family="Liberation Sans, Arial, sans-serif" font-size="16.5" fill="#ffffff" stroke="#ffffff" stroke-width="0.4" textLength="33.1" lengthAdjust="spacingAndGlyphs">287B</text>
<rect x="1979.0" y="875.5" width="59.0" height="24.0" fill="#666666"/>
<rect x="1979.0" y="886.8" width="5.5" height="1.4" fill="#ffffff"/>
<text x="1992.3" y="893.1" font-family="Liberation Sans, Arial, sans-serif" font-size="16.5" fill="#ffffff" stroke="#ffffff" stroke-width="0.4" textLength="33.1" lengthAdjust="spacingAndGlyphs">175B</text>
<rect x="1979.0" y="932.6" width="73.30000000000018" height="24.399999999999977" fill="#666666"/>
<rect x="1979.0" y="944.1" width="5.5" height="1.4" fill="#ffffff"/>
<text x="1992.3" y="950.4" font-family="Liberation Sans, Arial, sans-serif" font-size="16.5" fill="#ffffff" stroke="#ffffff" stroke-width="0.4" textLength="47.0" lengthAdjust="spacingAndGlyphs">113.5B</text>
<rect x="1979.0" y="128.6" width="73.30000000000018" height="24.0" fill="#53a69b"/>
<rect x="1979.0" y="139.9" width="5.5" height="1.4" fill="#ffffff"/>
<text x="1992.3" y="146.2" font-family="Liberation Sans, Arial, sans-serif" font-size="16.5" fill="#ffffff" stroke="#ffffff" stroke-width="0.4" textLength="47.0" lengthAdjust="spacingAndGlyphs">970.4B</text>
<rect x="1987.8" y="154.3" width="64.50000000000023" height="24.299999999999983" fill="#53a69b"/>
<text x="1993.5" y="172.0" font-family="Liberation Sans, Arial, sans-serif" font-size="16.5" fill="#ffffff" stroke="#ffffff" stroke-width="0.4" textLength="46.1" lengthAdjust="spacingAndGlyphs">6d 14h</text>
<rect x="151.1" y="1068" width="1.3" height="4.6" fill="#828282"/>
<text x="134.0" y="1093.8" font-family="Liberation Sans, Arial, sans-serif" font-size="16.5" fill="#d6d6d6" font-weight="bold" textLength="35.3" lengthAdjust="spacingAndGlyphs">2018</text>
<rect x="292.7" y="1068" width="1.3" height="4.6" fill="#828282"/>
<text x="279.6" y="1093.8" font-family="Liberation Sans, Arial, sans-serif" font-size="14.9" fill="#d6d6d6" stroke="#d6d6d6" stroke-width="0.4" textLength="27.3" lengthAdjust="spacingAndGlyphs">May</text>
<rect x="426.4" y="1068" width="1.3" height="4.6" fill="#828282"/>
<text x="415.0" y="1093.8" font-family="Liberation Sans, Arial, sans-serif" font-size="14.9" fill="#d6d6d6" stroke="#d6d6d6" stroke-width="0.4" textLength="24.0" lengthAdjust="spacingAndGlyphs">Sep</text>
<rect x="568.0" y="1068" width="1.3" height="4.6" fill="#828282"/>
<text x="550.9" y="1093.8" font-family="Liberation Sans, Arial, sans-serif" font-size="16.5" fill="#d6d6d6" font-weight="bold" textLength="35.3" lengthAdjust="spacingAndGlyphs">2019</text>
<rect x="701.7" y="1068" width="1.3" height="4.6" fill="#828282"/>
<text x="688.7" y="1093.8" font-family="Liberation Sans, Arial, sans-serif" font-size="14.9" fill="#d6d6d6" stroke="#d6d6d6" stroke-width="0.4" textLength="27.3" lengthAdjust="spacingAndGlyphs">May</text>
<rect x="835.5" y="1068" width="1.3" height="4.6" fill="#828282"/>
<text x="824.1" y="1093.8" font-family="Liberation Sans, Arial, sans-serif" font-size="14.9" fill="#d6d6d6" stroke="#d6d6d6" stroke-width="0.4" textLength="24.0" lengthAdjust="spacingAndGlyphs">Sep</text>
<rect x="977.4" y="1068" width="1.3" height="4.6" fill="#828282"/>
<text x="960.3" y="1093.8" font-family="Liberation Sans, Arial, sans-serif" font-size="16.5" fill="#d6d6d6" font-weight="bold" textLength="35.3" lengthAdjust="spacingAndGlyphs">2020</text>
<rect x="1110.8" y="1068" width="1.3" height="4.6" fill="#828282"/>
<text x="1097.7" y="1093.8" font-family="Liberation Sans, Arial, sans-serif" font-size="14.9" fill="#d6d6d6" stroke="#d6d6d6" stroke-width="0.4" textLength="27.3" lengthAdjust="spacingAndGlyphs">May</text>
<rect x="1252.4" y="1068" width="1.3" height="4.6" fill="#828282"/>
<text x="1241.0" y="1093.8" font-family="Liberation Sans, Arial, sans-serif" font-size="14.9" fill="#d6d6d6" stroke="#d6d6d6" stroke-width="0.4" textLength="24.0" lengthAdjust="spacingAndGlyphs">Sep</text>
<rect x="1386.1" y="1068" width="1.3" height="4.6" fill="#828282"/>
<text x="1369.1" y="1093.8" font-family="Liberation Sans, Arial, sans-serif" font-size="16.5" fill="#d6d6d6" font-weight="bold" textLength="35.3" lengthAdjust="spacingAndGlyphs">2021</text>
<rect x="1519.8" y="1068" width="1.3" height="4.6" fill="#828282"/>
<text x="1506.8" y="1093.8" font-family="Liberation Sans, Arial, sans-serif" font-size="14.9" fill="#d6d6d6" stroke="#d6d6d6" stroke-width="0.4" textLength="27.3" lengthAdjust="spacingAndGlyphs">May</text>
<rect x="1661.4" y="1068" width="1.3" height="4.6" fill="#828282"/>
<text x="1650.0" y="1093.8" font-family="Liberation Sans, Arial, sans-serif" font-size="14.9" fill="#d6d6d6" stroke="#d6d6d6" stroke-width="0.4" textLength="24.0" lengthAdjust="spacingAndGlyphs">Sep</text>
<rect x="1795.2" y="1068" width="1.3" height="4.6" fill="#828282"/>
<text x="1778.1" y="1093.8" font-family="Liberation Sans, Arial, sans-serif" font-size="16.5" fill="#d6d6d6" font-weight="bold" textLength="35.3" lengthAdjust="spacingAndGlyphs">2022</text>
<rect x="1928.9" y="1068" width="1.3" height="4.6" fill="#828282"/>
<text x="1915.8" y="1093.8" font-family="Liberation Sans, Arial, sans-serif" font-size="14.9" fill="#d6d6d6" stroke="#d6d6d6" stroke-width="0.4" textLength="27.3" lengthAdjust="spacingAndGlyphs">May</text>
<g stroke="#80838f" stroke-width="1.5" fill="none">
<circle cx="2024.2" cy="1087.7" r="6.85"/>
<line x1="2024.20" y1="1095.10" x2="2024.20" y2="1098.60"/>
<line x1="2018.97" y1="1092.93" x2="2016.49" y2="1095.41"/>
<line x1="2016.80" y1="1087.70" x2="2013.30" y2="1087.70"/>
<line x1="2018.97" y1="1082.47" x2="2016.49" y2="1079.99"/>
<line x1="2024.20" y1="1080.30" x2="2024.20" y2="1076.80"/>
<line x1="2029.43" y1="1082.47" x2="2031.91" y2="1079.99"/>
<line x1="2031.60" y1="1087.70" x2="2035.10" y2="1087.70"/>
<line x1="2029.43" y1="1092.93" x2="2031.91" y2="1095.41"/>
</g>
</svg>
</body></html>
